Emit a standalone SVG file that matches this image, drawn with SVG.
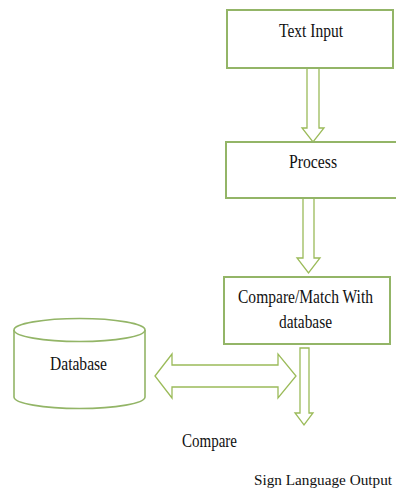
<svg xmlns="http://www.w3.org/2000/svg" width="396" height="491" viewBox="0 0 396 491">
  <style>
    .box { fill: #ffffff; stroke: #93b567; stroke-width: 2; }
    .arrow { fill: #ffffff; stroke: #9bbb59; stroke-width: 1.3; stroke-linejoin: miter; }
    .cyl { fill: #ffffff; stroke: #93b567; stroke-width: 1.6; }
    .lbl { font-family: "Liberation Serif", "Times New Roman", serif; font-size: 18px; fill: #111111; text-anchor: middle; }
    .lbl.small { font-size: 15.5px; }
  </style>
  <rect width="396" height="491" fill="#ffffff"/>

  <!-- block arrows -->
  <g id="connectors">
    <!-- Text Input to Process -->
    <path class="arrow" d="M307,68 L319,68 L319,128 L324,128 L313,142 L302,128 L307,128 Z"/>
    <!-- Process to Compare/Match -->
    <path class="arrow" d="M303,198 L314,198 L314,258 L320,258 L308.5,273 L297,258 L303,258 Z"/>
    <!-- Compare/Match to output -->
    <path class="arrow" d="M300,348 L309,348 L309,413 L313,413 L304,425 L295,413 L300,413 Z"/>
    <!-- two-way arrow between Database and Compare/Match -->
    <path class="arrow" d="M155,376 L172,354 L172,365 L278,365 L278,354 L296,376 L278,398 L278,387 L172,387 L172,398 Z"/>
  </g>

  <g id="text-input">
    <rect class="box" x="227" y="10" width="166" height="58"/>
    <text class="lbl" x="311" y="37" textLength="64" lengthAdjust="spacingAndGlyphs">Text Input</text>
  </g>

  <g id="process">
    <rect class="box" x="226" y="142" width="172" height="56"/>
    <text class="lbl" x="313" y="168" textLength="48" lengthAdjust="spacingAndGlyphs">Process</text>
  </g>

  <g id="compare-match">
    <rect class="box" x="224" y="277" width="166" height="67"/>
    <text class="lbl" x="305.5" y="303" textLength="135" lengthAdjust="spacingAndGlyphs">Compare/Match With</text>
    <text class="lbl" x="305.5" y="328" textLength="53" lengthAdjust="spacingAndGlyphs">database</text>
  </g>

  <g id="database">
    <path class="cyl" d="M14,330 L14,397 A65.5,11.5 0 0 0 145,397 L145,330"/>
    <ellipse class="cyl" cx="79.5" cy="330" rx="65.5" ry="11.5"/>
    <text class="lbl" x="78.5" y="370" textLength="57" lengthAdjust="spacingAndGlyphs">Database</text>
  </g>

  <g id="compare-label">
    <text class="lbl" x="209.5" y="447" textLength="55" lengthAdjust="spacingAndGlyphs">Compare</text>
  </g>

  <g id="sign-output">
    <text class="lbl small" x="323" y="485" textLength="138" lengthAdjust="spacingAndGlyphs">Sign Language Output</text>
  </g>
</svg>
